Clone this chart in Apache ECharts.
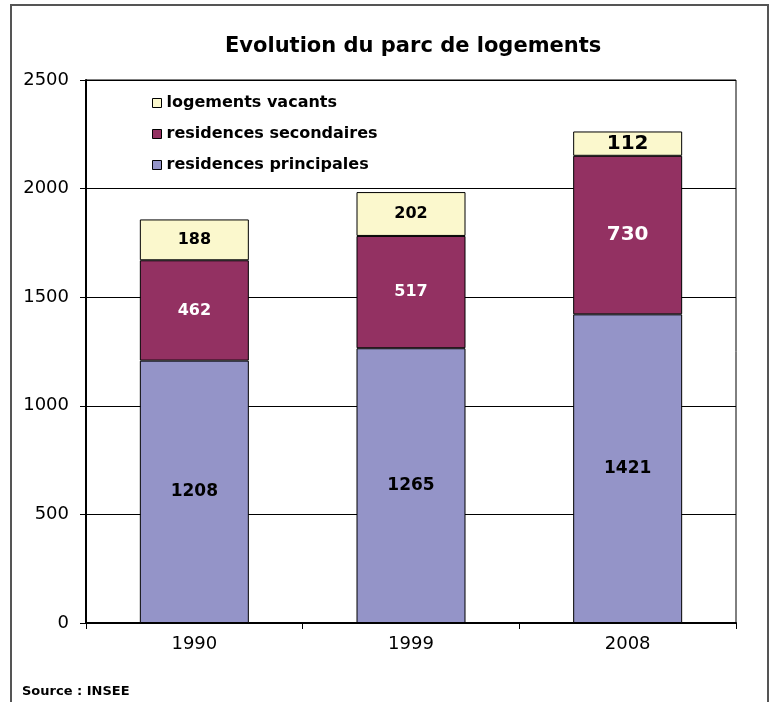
<!DOCTYPE html>
<html>
<head>
<meta charset="utf-8">
<script src="https://cdn.jsdelivr.net/npm/echarts@6/dist/echarts.min.js"></script>
<style>
  html, body { margin: 0; padding: 0; background: #fff; }
  #chart { width: 771px; height: 702px; }
</style>
</head>
<body>
<div id="chart"></div>
<script>
const years = ['1990', '1999', '2008']
const principales = [1208, 1265, 1421]
const secondaires = [462, 517, 730]
const vacants = [188, 202, 112]
const yTicks = { min: 0, max: 2500, step: 500 }

const chart = echarts.init(document.getElementById('chart'))

// the 2008 segments carry bigger labels in the original
const bigLast = (color) => ({
  show: true,
  position: 'inside',
  formatter: (p) => (p.dataIndex === 2 ? '{big|' + p.value + '}' : '{n|' + p.value + '}'),
  rich: {
    n: { fontFamily: 'DejaVu Sans', fontWeight: 'bold', fontSize: 16, color },
    big: { fontFamily: 'DejaVu Sans', fontWeight: 'bold', fontSize: 20, color }
  }
})

const barStyle = (color) => ({ color, borderColor: '#000', borderWidth: 1 })

chart.setOption({
  animation: false,
  backgroundColor: '#fff',
  title: {
    text: 'Evolution du parc de logements',
    left: 220,
    top: 31,
    textStyle: { fontFamily: 'DejaVu Sans', fontWeight: 'bold', fontSize: 21, color: '#000' }
  },
  graphic: [
    {
      type: 'rect',
      shape: { x: 11, y: 5, width: 757, height: 720 },
      style: { fill: 'none', stroke: '#555', lineWidth: 2 },
      silent: true
    },
    {
      type: 'text',
      left: 22,
      top: 685,
      style: { text: 'Source : INSEE', font: 'bold 13px "DejaVu Sans"', fill: '#000' }
    }
  ],
  legend: {
    orient: 'vertical',
    left: 147,
    top: 90,
    itemWidth: 9,
    itemHeight: 9,
    itemGap: 15,
    icon: 'rect',
    data: ['logements vacants', 'residences secondaires', 'residences principales'],
    itemStyle: { borderColor: '#000', borderWidth: 1 },
    textStyle: { fontFamily: 'DejaVu Sans', fontWeight: 'bold', fontSize: 16, color: '#000', lineHeight: 16 }
  },
  grid: {
    left: 86,
    right: 35,
    top: 80,
    bottom: 79,
    show: true,
    borderColor: '#000',
    borderWidth: 1
  },
  xAxis: {
    type: 'category',
    data: years,
    axisLine: { lineStyle: { color: '#000', width: 2 } },
    axisTick: { show: true, length: 6, lineStyle: { color: '#000' } },
    axisLabel: { fontFamily: 'DejaVu Sans', fontSize: 18, color: '#000', margin: 12 }
  },
  yAxis: {
    type: 'value',
    min: yTicks.min,
    max: yTicks.max,
    interval: yTicks.step,
    axisLine: { show: true, lineStyle: { color: '#000', width: 2 } },
    axisTick: { show: true, length: 6, lineStyle: { color: '#000' } },
    axisLabel: { fontFamily: 'DejaVu Sans', fontSize: 18, color: '#000', margin: 17, formatter: (v) => String(v) },
    splitLine: { lineStyle: { color: '#000', width: 1 } }
  },
  series: [
    {
      name: 'residences principales',
      type: 'bar',
      stack: 'parc',
      barWidth: 109,
      data: principales,
      itemStyle: barStyle('#9494c8'),
      label: {
        show: true,
        position: 'inside',
        fontFamily: 'DejaVu Sans',
        fontWeight: 'bold',
        fontSize: 17,
        color: '#000'
      }
    },
    {
      name: 'residences secondaires',
      type: 'bar',
      stack: 'parc',
      data: secondaires,
      itemStyle: barStyle('#933162'),
      label: bigLast('#fff')
    },
    {
      name: 'logements vacants',
      type: 'bar',
      stack: 'parc',
      data: vacants,
      itemStyle: barStyle('#fbf8cd'),
      label: bigLast('#000')
    }
  ]
})
</script>
</body>
</html>
